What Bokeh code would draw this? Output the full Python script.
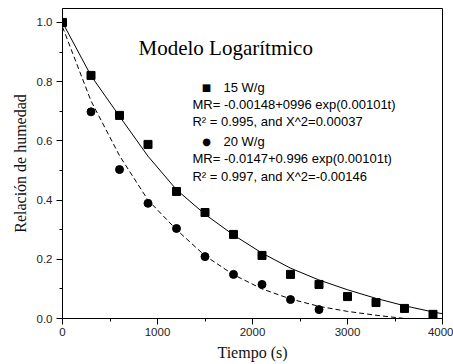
from bokeh.plotting import figure
from bokeh.models import Range1d, FixedTicker, PrintfTickFormatter, Label, ColumnDataSource
from bokeh.embed import file_html
from bokeh.resources import INLINE

# --- data ---
t_15 = [0, 300, 600, 900, 1200, 1500, 1800, 2100, 2400, 2700, 3000, 3300, 3600, 3900]
mr_15 = [1.0, 0.821, 0.686, 0.588, 0.429, 0.358, 0.284, 0.213, 0.149, 0.115, 0.074, 0.054, 0.034, 0.014]

t_20 = [0, 300, 600, 900, 1200, 1500, 1800, 2100, 2400, 2700]
mr_20 = [1.0, 0.698, 0.503, 0.389, 0.304, 0.209, 0.149, 0.115, 0.064, 0.030]

# fitted curves
fit_t_15 = [0, 300, 600, 900, 1200, 1500, 1800, 2100, 2400, 2700, 3000, 3300, 3600, 3900, 4000]
fit_mr_15 = [1.0, 0.82, 0.683, 0.548, 0.435, 0.352, 0.282, 0.221, 0.17, 0.13, 0.097, 0.068, 0.043, 0.022, 0.016]

fit_t_20 = [0, 300, 600, 900, 1200, 1500, 1800, 2100, 2400, 2700, 3000, 3300, 3600]
fit_mr_20 = [0.985, 0.735, 0.55, 0.40, 0.30, 0.212, 0.148, 0.10, 0.066, 0.041, 0.024, 0.011, 0.0]

x_ticks = [0, 1000, 2000, 3000, 4000]
x_minor = [500, 1500, 2500, 3500]
y_ticks = [0.0, 0.2, 0.4, 0.6, 0.8, 1.0]
y_minor = [0.1, 0.3, 0.5, 0.7, 0.9]

title_text = "Modelo Logarítmico"
legend_lines = [
    ("■", "15 W/g"),
    (None, "MR= -0.00148+0996 exp(0.00101t)"),
    (None, "R² = 0.995, and X^2=0.00037"),
    ("●", "20 W/g"),
    (None, "MR= -0.0147+0.996 exp(0.00101t)"),
    (None, "R² = 0.997, and X^2=-0.00146"),
]

SERIF = "Times New Roman"

p = figure(width=453, height=364, output_backend="svg", toolbar_location=None,
           x_range=Range1d(0, 4000), y_range=Range1d(0, 1.047),
           min_border_left=62, min_border_right=11, min_border_top=8, min_border_bottom=46)

p.grid.visible = False
p.outline_line_color = "black"
p.outline_line_width = 1
p.background_fill_color = "white"
p.border_fill_color = "white"

for ax in (p.xaxis[0], p.yaxis[0]):
    ax.axis_line_color = "black"
    ax.major_tick_line_color = "black"
    ax.minor_tick_line_color = "black"
    ax.major_tick_out = 6
    ax.major_tick_in = 0
    ax.minor_tick_out = 3
    ax.minor_tick_in = 0
    ax.major_label_text_font = "Liberation Sans"
    ax.major_label_text_font_size = "11.5px"
    ax.major_label_text_color = "#222222"
    ax.axis_label_text_font = SERIF
    ax.axis_label_text_font_size = "16px"
    ax.axis_label_text_font_style = "normal"
    ax.axis_label_text_color = "#111111"

p.xaxis.ticker = FixedTicker(ticks=x_ticks, minor_ticks=x_minor)
p.yaxis.ticker = FixedTicker(ticks=y_ticks, minor_ticks=y_minor)
p.xaxis.formatter = PrintfTickFormatter(format="%d")
p.yaxis.formatter = PrintfTickFormatter(format="%.1f")
p.xaxis.axis_label = "Tiempo (s)"
p.yaxis.axis_label = "Relación de humedad"
p.xaxis.major_label_standoff = 3
p.xaxis.axis_label_standoff = 5
p.yaxis.major_label_standoff = 4
p.yaxis.axis_label_standoff = 5

src15 = ColumnDataSource(dict(t=t_15, mr=mr_15))
src20 = ColumnDataSource(dict(t=t_20, mr=mr_20))
fit15 = ColumnDataSource(dict(t=fit_t_15, mr=fit_mr_15))
fit20 = ColumnDataSource(dict(t=fit_t_20, mr=fit_mr_20))

p.line("t", "mr", source=fit15, line_color="black", line_width=1)
p.line("t", "mr", source=fit20, line_color="black", line_width=1, line_dash="5 3")
p.scatter("t", "mr", source=src20, marker="circle", size=8, fill_color="black", line_color="black")
p.scatter("t", "mr", source=src15, marker="square", size=8, fill_color="black", line_color="black")

p.add_layout(Label(x=800, y=0.912, text=title_text, text_font=SERIF,
                   text_font_size="21px", text_color="black", text_baseline="alphabetic"))

line_y = [0.780, 0.723, 0.666, 0.598, 0.541, 0.480]
for (sym, txt), yy in zip(legend_lines, line_y):
    if sym is not None:
        p.add_layout(Label(x=1516, y=yy, text=sym, text_font="DejaVu Sans", text_font_size="10px",
                           text_color="black", text_align="center", text_baseline="middle"))
        p.add_layout(Label(x=1695, y=yy, text=txt, text_font="Liberation Sans", text_font_size="13px",
                           text_color="black", text_baseline="middle"))
    else:
        p.add_layout(Label(x=1368, y=yy, text=txt, text_font="Liberation Sans", text_font_size="13px",
                           text_color="black", text_baseline="middle"))

open("out.html", "w").write(file_html(p, INLINE))
